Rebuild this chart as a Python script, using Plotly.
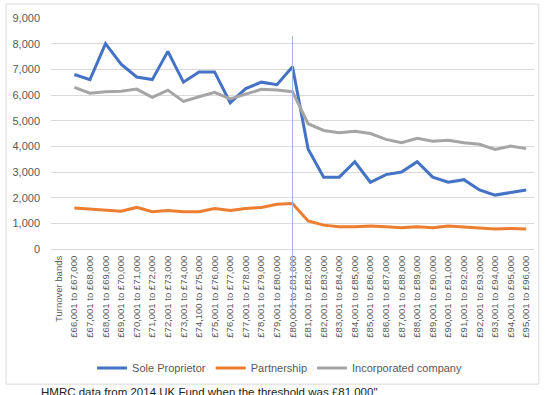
import plotly.graph_objects as go

first_label = "Turnover bands"
bands = [
    "£66,001 to £67,000", "£67,001 to £68,000", "£68,001 to £69,000", "£69,001 to £70,000",
    "£70,001 to £71,000", "£71,001 to £72,000", "£72,001 to £73,000", "£73,001 to £74,000",
    "£74,100 to £75,000", "£75,001 to £76,000", "£76,001 to £77,000", "£77,001 to £78,000",
    "£78,001 to £79,000", "£79,001 to £80,000", "£80,001 to £81,000", "£81,001 to £82,000",
    "£82,001 to £83,000", "£83,001 to £84,000", "£84,001 to £85,000", "£85,001 to £86,000",
    "£86,001 to £87,000", "£87,001 to £88,000", "£88,001 to £89,000", "£89,001 to £90,000",
    "£90,001 to £91,000", "£91,001 to £92,000", "£92,001 to £93,000", "£93,001 to £94,000",
    "£94,001 to £95,000", "£95,001 to £96,000",
]

sole_proprietor = [6800, 6600, 8000, 7200, 6700, 6600, 7700, 6500, 6900, 6900,
                   5700, 6250, 6500, 6400, 7100, 3900, 2800, 2800, 3400, 2600,
                   2900, 3000, 3400, 2800, 2600, 2700, 2300, 2100, 2200, 2300]
partnership = [1600, 1550, 1500, 1470, 1620, 1450, 1500, 1450, 1450, 1580,
               1500, 1580, 1620, 1740, 1770, 1090, 930, 870, 870, 900,
               870, 830, 870, 830, 900, 860, 810, 780, 800, 780]
incorporated = [6300, 6070, 6130, 6150, 6230, 5910, 6190, 5750, 5930, 6100,
                5850, 6030, 6220, 6190, 6130, 4880, 4620, 4530, 4590, 4500,
                4270, 4140, 4310, 4200, 4240, 4140, 4080, 3880, 4010, 3910]

y_ticks = [0, 1000, 2000, 3000, 4000, 5000, 6000, 7000, 8000, 9000]
y_tick_text = ["0", "1,000", "2,000", "3,000", "4,000", "5,000", "6,000", "7,000", "8,000", "9,000"]

threshold_band = "£80,001 to £81,000"
caption = "HMRC data from 2014 UK Fund when the threshold was £81,000\""

categories = [first_label] + bands

fig = go.Figure()
series = [
    ("Sole Proprietor", sole_proprietor, "#4472C4"),
    ("Partnership", partnership, "#ED7D31"),
    ("Incorporated company", incorporated, "#A5A5A5"),
]
for name, vals, color in series:
    fig.add_trace(go.Scatter(
        x=bands, y=vals, name=name, mode="lines",
        line=dict(color=color, width=3),
    ))

grey = "#595959"
font_family = "Liberation Sans, Arial, sans-serif"

fig.update_layout(
    width=552, height=395,
    margin=dict(l=49, r=18, t=17, b=144),
    paper_bgcolor="white", plot_bgcolor="white",
    font=dict(family=font_family, color=grey),
    showlegend=True,
    legend=dict(
        orientation="h", x=0.085, xanchor="left", y=-0.515, yanchor="middle",
        font=dict(size=11, color=grey), itemwidth=30, tracegroupgap=0,
    ),
    xaxis=dict(
        type="category", categoryorder="array", categoryarray=categories,
        range=[-0.5, len(categories) - 0.5],
        tickangle=-90, tickfont=dict(size=9.5, color=grey),
        showgrid=False, showline=True, linecolor="#d9d9d9", linewidth=1,
        ticks="", ticklabelstandoff=2,
    ),
    yaxis=dict(
        range=[0, 9000], tickvals=y_ticks, ticktext=y_tick_text,
        tickfont=dict(size=11, color=grey),
        showgrid=True, gridcolor="#d9d9d9", gridwidth=1, zeroline=False,
        ticks="", ticklabelstandoff=10,
    ),
)

# threshold marker line
fig.add_shape(type="line", xref="x", yref="paper",
              x0=threshold_band, x1=threshold_band, y0=-0.26, y1=0.923,
              line=dict(color="#9DB5E0", width=1))

# chart border
fig.add_shape(type="rect", xref="paper", yref="paper",
              x0=-0.093, x1=1.010, y0=-0.585, y1=1.060,
              line=dict(color="#d9d9d9", width=1), fillcolor="rgba(0,0,0,0)", layer="below")

fig.add_annotation(text=caption, xref="paper", yref="paper",
                   x=-0.025, y=-0.586, xanchor="left", yanchor="top",
                   showarrow=False, font=dict(size=11.5, color="#222222", family=font_family))

fig.write_html(
    "out.html",
    config={"displayModeBar": False},
    post_script="document.body.style.margin='0';document.body.style.overflow='hidden';",
)
